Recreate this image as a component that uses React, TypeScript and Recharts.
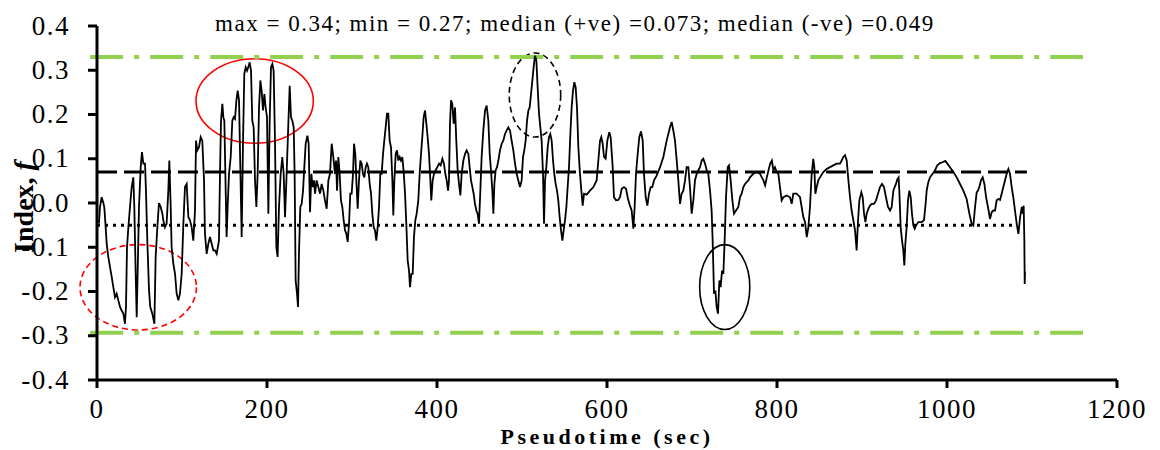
import {
  LineChart,
  Line,
  XAxis,
  YAxis,
  ReferenceLine,
  ReferenceArea,
} from "recharts";

const xTicks = [0, 200, 400, 600, 800, 1000, 1200];
const yTicks = [-0.4, -0.3, -0.2, -0.1, 0, 0.1, 0.2, 0.3, 0.4];

const upperBound = 0.33;
const lowerBound = -0.293;
const medianPos = 0.07;
const medianNeg = -0.05;

const title = "max = 0.34; min = 0.27; median (+ve) =0.073; median (-ve) =0.049";

// [pseudotime (sec), index f]
const trace: [number, number][] = [
  [1, -0.04], [2.4, -0.043], [3.5, -0.009], [5.5, 0.013], [7.5, 0], [8.6, -0.01],
  [10.2, -0.055], [11.4, -0.092], [13.3, -0.122], [15.3, -0.145], [17.3, -0.167],
  [19.2, -0.19], [21.2, -0.213], [23.1, -0.205], [25.1, -0.22], [27.1, -0.235],
  [29, -0.243], [31, -0.25], [32.9, -0.273], [34.1, -0.235], [35.3, -0.1],
  [36.9, -0.055], [38.8, -0.009], [40.8, 0.036], [42.7, 0.058], [43.9, -0.009],
  [45.5, -0.16], [46.7, -0.258], [47.8, -0.16], [49.4, -0.009], [51.4, 0.081],
  [52.9, 0.115], [54.5, 0.089], [56.5, 0.089], [57.6, 0.028], [59.2, -0.085],
  [61.2, -0.198], [62.7, -0.235], [65.1, -0.25], [67.5, -0.273], [69, -0.122],
  [71, -0.055], [72.9, 0], [74.9, -0.009], [76.9, -0.024], [78, -0.039],
  [80, -0.055], [81.9, -0.047], [83.9, 0.028], [85.1, 0.096], [86.7, -0.009],
  [87.8, -0.1], [89.8, -0.137], [91.8, -0.16], [93.7, -0.205], [95.7, -0.22],
  [97.6, -0.205], [99.6, -0.16], [101.6, -0.047], [103.5, 0.036], [105.5, 0.043],
  [107.5, -0.032], [109.4, -0.039], [111.4, -0.055], [113.3, -0.085], [115.3, -0.017],
  [116.5, 0.141], [118, 0.119], [120, 0.126], [122, 0.149], [123.9, 0.141],
  [125.9, 0.051], [127, -0.069], [129, -0.115], [131, -0.092], [132.9, -0.077],
  [134.9, -0.092], [136.9, -0.107], [138.8, -0.107], [140.8, -0.115],
  [143.5, -0.085], [144.7, 0.066], [145.9, 0.186], [147.5, 0.224], [148.6, 0.194],
  [149.8, 0.186], [151.4, 0.028], [152.5, -0.077], [153.7, -0.009], [155.3, 0.066],
  [157.3, 0.104], [159.2, 0.186], [160.8, 0.194], [162.4, 0.19], [164, 0.232],
  [165.5, 0.254], [167.1, 0.232], [168.6, 0.081], [170.2, -0.077], [171.8, 0.141],
  [173.3, 0.292], [174.9, 0.307], [176.5, 0.299], [178, 0.307], [179.6, 0.318],
  [181.2, 0.299], [182.7, 0.186], [184.3, 0.171], [185.9, 0.051], [187.5, -0.009],
  [189, 0.066], [190.6, 0.216], [192.2, 0.277], [193.7, 0.254], [195.3, 0.209],
  [196.9, 0.246], [198.4, 0.216], [200, 0.194], [201.6, -0.024], [203.1, 0.179],
  [204.7, 0.307], [206.3, 0.314], [207.8, 0.299], [209.4, 0.141], [211, -0.1],
  [212.5, -0.122], [214.1, -0.009], [216.1, 0.066], [218, 0.104], [219.6, 0.066],
  [221.2, -0.032], [223.1, 0.066], [225.1, 0.179], [226.7, 0.265], [228.2, 0.194],
  [229.8, 0.186], [231.4, 0.171], [232.5, 0.066], [233.7, -0.175], [235.3, -0.205],
  [236.5, -0.235], [237.6, -0.115], [239.2, -0.009], [240.8, -0.002], [242.4, 0.028],
  [243.9, 0.081], [245.5, 0.134], [247.5, 0.152], [249, 0.134], [250.6, -0.021],
  [252.2, 0.066], [253.7, 0.036], [255.3, 0.051], [256.5, 0.021], [258.4, 0.051],
  [260.4, 0.036], [262.4, 0.021], [264.3, 0.043], [266.3, 0.028], [268.2, 0.006],
  [270.2, -0.013], [272.2, 0.051], [274.1, 0.066], [276.1, 0.134], [278, 0.104],
  [280, 0.066], [281.2, 0.096], [282.4, 0.028], [283.9, 0.104], [285.5, 0.066],
  [287, 0.006], [288.6, -0.009], [290.2, -0.039], [291.8, -0.062], [293.3, -0.069],
  [294.9, -0.088], [296.5, -0.047], [298, 0.021], [299.6, 0.021], [301.2, 0.066],
  [302.4, 0.134], [303.9, 0.111], [305.1, 0.051], [306.7, -0.013], [308.2, 0.051],
  [309.8, 0.096], [311.4, 0.089], [312.9, 0.066], [314.5, 0.058], [316.1, 0.081],
  [317.6, 0.089], [319.2, 0.081], [320.8, 0.043], [322.4, 0.021], [323.9, -0.024],
  [325.5, -0.055], [327.1, -0.062], [328.6, -0.085], [330.2, -0.055], [331.8, -0.009],
  [333.3, 0.066], [334.9, 0.066], [336.5, 0.111], [338, 0.141], [339.6, 0.171],
  [341.2, 0.202], [342.7, 0.202], [344.3, 0.141], [345.9, 0.126], [347.5, 0.051],
  [348.6, -0.028], [349.8, 0.051], [351.4, 0.111], [352.9, 0.119], [354.5, 0.096],
  [356.1, 0.104], [357.6, 0.096], [359.2, 0.104], [360.8, 0.07], [362.4, 0.021],
  [363.9, -0.047], [365.5, -0.13], [367.1, -0.153], [368.2, -0.19], [369.8, -0.16],
  [371.4, -0.16], [372.9, -0.077], [374.5, -0.039], [376.1, -0.024], [378, 0.006],
  [379.6, 0.066], [381.2, 0.111], [382.7, 0.149], [384.3, 0.194], [385.9, 0.209],
  [387.5, 0.179], [389, 0.149], [390.6, 0.111], [392.2, 0.051], [393.3, 0.006],
  [394.9, 0.051], [396.5, 0.066], [398.4, 0.074], [400.4, 0.081], [402.4, 0.089],
  [404.3, 0.085], [406.3, 0.1], [408.2, 0.089], [409.8, 0.066], [411.4, 0.051],
  [413, 0.028], [414.1, 0.051], [415.3, 0.179], [416.5, 0.232], [418, 0.224],
  [419.6, 0.179], [421.2, 0.216], [422.7, 0.141], [424.3, 0.074], [425.9, 0.043],
  [427.5, 0.017], [429, 0.066], [431, 0.096], [433, 0.111], [434.9, 0.119],
  [436.9, 0.111], [438.4, 0.081], [440, 0.051], [441.6, 0.036], [443.1, 0.021],
  [444.7, -0.002], [446.3, -0.017], [447.8, -0.024], [449.4, -0.047], [451, 0.028],
  [452.5, 0.104], [454.5, 0.164], [456.5, 0.209], [458.4, 0.22], [460.4, 0.186],
  [462, 0.111], [463.5, 0.074], [465.1, 0.028], [466.3, -0.024], [467.5, 0.043],
  [469, 0.074], [470.6, 0.081], [472.2, 0.096], [474.1, 0.119], [476.1, 0.134],
  [478, 0.141], [480, 0.156], [482, 0.164], [483.9, 0.171], [485.9, 0.164],
  [487.8, 0.141], [489.8, 0.119], [491.8, 0.089], [493.7, 0.066], [495.7, 0.051],
  [497.6, 0.036], [499.6, 0.051], [501.2, 0.104], [502.7, 0.119], [504.3, 0.141],
  [505.9, 0.186], [507.5, 0.209], [509, 0.216], [510.6, 0.246], [512.2, 0.277],
  [513.7, 0.307], [515.3, 0.333], [516.9, 0.322], [518.4, 0.262], [520, 0.202],
  [521.6, 0.171], [523.1, 0.141], [524.7, 0.066], [525.9, -0.047], [527.1, 0.051],
  [528.6, 0.081], [530.2, 0.126], [531.8, 0.149], [533.3, 0.156], [534.9, 0.141],
  [536.5, 0.096], [538, 0.066], [539.6, 0.043], [541.2, 0.028], [542.7, 0.006],
  [544.3, -0.032], [545.9, -0.062], [547.5, -0.085], [549, -0.062], [550.6, -0.039],
  [552.2, -0.009], [553.7, 0.036], [555.3, 0.081], [556.9, 0.156], [558.4, 0.216],
  [560, 0.254], [561.6, 0.273], [563.1, 0.262], [564.7, 0.216], [566.3, 0.126],
  [568.2, 0.066], [569.8, 0.028], [571.4, -0.006], [573, 0.021], [576.1, 0.019],
  [580, 0.028], [584, 0.036], [587.8, 0.051], [589.8, 0.096], [591.8, 0.141],
  [593.3, 0.149], [594.9, 0.134], [596.5, 0.104], [598.4, 0.1], [600.4, 0.141],
  [602.7, 0.16], [604.3, 0.149], [606.7, 0.081], [608.2, 0.013], [610.6, 0.006],
  [613.3, 0.007], [615.3, 0.013], [617.3, 0.032], [620, 0.036], [622.4, 0.032],
  [624.3, 0.013], [626.3, -0.002], [629, -0.017], [631, -0.058], [632.5, -0.009],
  [634.1, 0.066], [636.1, 0.111], [638, 0.149], [640, 0.162], [642, 0.141],
  [643.5, 0.066], [645.5, 0.013], [647.5, -0.006], [649.4, 0.021], [651.4, 0.036],
  [653.3, 0.036], [655.3, 0.051], [658.4, 0.062], [662.4, 0.081], [666.3, 0.104],
  [670.2, 0.141], [674.1, 0.171], [676.1, 0.183], [678, 0.164], [680, 0.141],
  [682, 0.096], [683.9, 0.051], [685.9, -0.002], [687.8, 0.021], [689.8, 0.028],
  [691.8, 0.051], [693.7, 0.081], [695.7, 0.081], [697.6, 0.036], [699.6, -0.024],
  [701.6, 0.006], [703.5, 0.051], [705.5, 0.066], [707.5, 0.074], [709.4, 0.081],
  [711.4, 0.096], [713.3, 0.1], [715.3, 0.089], [717.3, 0.074], [719.2, 0.066],
  [721.2, 0.028], [723.1, -0.017], [724.3, -0.085], [725.9, -0.205], [727.5, -0.198],
  [729, -0.235], [730.6, -0.25], [732.2, -0.175], [733.7, -0.19], [735.3, -0.153],
  [736.9, -0.16], [738.4, -0.085], [740, 0.013], [742, 0.081], [743.5, 0.085],
  [745.5, 0.051], [747.5, 0.006], [749.4, -0.024], [751.8, -0.017], [754.5, -0.009],
  [756.5, 0.013], [758.4, 0.021], [760.4, 0.036], [762.4, 0.043], [764.3, 0.047],
  [766.3, 0.051], [768.2, 0.058], [772.2, 0.066], [776.1, 0.07], [780, 0.066],
  [784, 0.051], [786, 0.04], [788, 0.058], [790, 0.074], [792, 0.089],
  [794, 0.096], [795.7, 0.074], [797.6, 0.081], [799.6, 0.07], [801.6, 0.066],
  [803.5, 0.036], [805.5, 0.006], [807.5, 0.013], [811.4, 0.017], [815.3, 0.013],
  [817.3, -0.002], [819.2, 0.021], [823.1, 0.021], [827.1, 0.013], [829, -0.009],
  [831, -0.032], [833, -0.043], [835, -0.077], [836.9, -0.055], [838.8, -0.009],
  [840.8, 0.066], [842.7, 0.1], [843.9, 0.081], [845.1, 0.021], [846.7, 0.036],
  [848.6, 0.051], [850.6, 0.058], [854.5, 0.07], [858.4, 0.077], [862.4, 0.081],
  [866.3, 0.085], [870.2, 0.089], [874.1, 0.089], [876.1, 0.096], [878, 0.104],
  [880, 0.108], [882, 0.096], [884, 0.051], [885.9, 0.013], [887.8, -0.017],
  [889.8, -0.039], [891.8, -0.062], [893.7, -0.107], [895.3, -0.04], [896.9, 0.006],
  [899.2, 0.024], [900.8, 0.013], [902.4, -0.024], [904, -0.043], [905.5, -0.024],
  [907.5, -0.013], [909.4, -0.006], [911.4, -0.002], [914.1, -0.002], [916.5, 0.006],
  [918.8, 0.021], [921.2, 0.036], [923.5, 0.043], [925.9, 0.036], [928.2, 0.013],
  [930.6, -0.009], [933, -0.017], [934.9, -0.009], [936.9, 0.028], [938.4, 0.036],
  [940, 0.043], [941.6, 0.054], [943.1, 0.058], [943.9, 0.028], [945.5, -0.055],
  [947.1, -0.085], [948.6, -0.107], [949.8, -0.141], [951, -0.092], [952.5, -0.055],
  [954.1, 0.006], [955.7, 0.028], [957.3, 0.013], [958.8, -0.024], [960.4, -0.051],
  [962, -0.058], [963.5, -0.051], [966.3, -0.043], [970.2, -0.043], [972.9, -0.039],
  [974.5, -0.009], [976.1, 0.028], [978, 0.047], [980, 0.058], [983.1, 0.066],
  [985.9, 0.074], [988.6, 0.085], [991.8, 0.09], [994.9, 0.092], [998, 0.095],
  [1000.4, 0.089], [1003.5, 0.081], [1007.5, 0.07], [1011.4, 0.058], [1015.3, 0.043],
  [1019.2, 0.028], [1023.1, 0.009], [1026.3, -0.024], [1029, -0.047], [1031, -0.051],
  [1033, -0.009], [1034.9, 0.024], [1036.5, 0.028], [1038, 0.036], [1040, 0.051],
  [1042, 0.058], [1044, 0.043], [1046, 0.013], [1048.2, -0.009], [1050.6, -0.036],
  [1052.5, -0.021], [1054.5, -0.017], [1056.5, -0.017], [1058.4, 0.006], [1060.4, 0.009],
  [1062.4, 0.007], [1064.3, 0.021], [1066.3, 0.036], [1068.2, 0.051], [1070.2, 0.066],
  [1072.2, 0.077], [1074.1, 0.066], [1076.1, 0.036], [1078, 0.013], [1080, -0.017],
  [1082, -0.047], [1084, -0.07], [1086, -0.032], [1088, -0.009], [1089, -0.024],
  [1090.2, -0.006], [1091, -0.085], [1091.4, -0.183], [1091.8, -0.155],
];

// circled events, in data units
const redSolid = { x1: 116.5, x2: 254.5, y1: 0.135, y2: 0.326 };
const redDashed = { x1: -20, x2: 117, y1: -0.287, y2: -0.094 };
const blackDashed = { x1: 485, x2: 545.5, y1: 0.149, y2: 0.339 };
const blackSolid = { x1: 709, x2: 768, y1: -0.286, y2: -0.094 };

const data = trace.map(([t, f]) => ({ t, f }));

const serif = "Liberation Serif";

const ellipse = (stroke: string, dash?: string) => (props: any) => {
  const { x, y, width, height } = props;
  return (
    <ellipse
      cx={x + width / 2}
      cy={y + height / 2}
      rx={Math.abs(width) / 2}
      ry={Math.abs(height) / 2}
      fill="none"
      stroke={stroke}
      strokeWidth={1.6}
      strokeDasharray={dash}
    />
  );
};

const XTick = (props: any) => {
  const { x, y, payload } = props;
  return (
    <text x={x} y={y} dy={16} textAnchor="middle" fontFamily={serif} fontSize={27} fill="#000" style={{ letterSpacing: 1.5 }}>
      {payload.value}
    </text>
  );
};

const YTick = (props: any) => {
  const { x, y, payload } = props;
  return (
    <text x={x} y={y} dy={8.5} textAnchor="end" fontFamily={serif} fontSize={27} fill="#000" style={{ letterSpacing: 1.5 }}>
      {Number(payload.value).toFixed(1)}
    </text>
  );
};

export default function App() {
  return (
    <div style={{ position: "absolute", left: 0, top: 0, width: 1160, height: 450, background: "#fff" }}>
      <LineChart width={1160} height={450} data={data} margin={{ top: 26, right: 43, bottom: 0, left: 17 }}>
        <XAxis
          type="number"
          dataKey="t"
          domain={[0, 1200]}
          ticks={xTicks}
          height={70}
          allowDataOverflow
          axisLine={{ stroke: "#000", strokeWidth: 3 }}
          tickLine={{ stroke: "#000", strokeWidth: 3 }}
          tickSize={8}
          tickMargin={14}
          tick={<XTick />}
        />
        <YAxis
          type="number"
          domain={[-0.4, 0.4]}
          ticks={yTicks}
          width={80}
          allowDataOverflow
          axisLine={{ stroke: "#000", strokeWidth: 3 }}
          tickLine={{ stroke: "#000", strokeWidth: 3 }}
          tickSize={9}
          tickMargin={18}
          tick={<YTick />}
        />
        <ReferenceLine
          segment={[{ x: -8, y: upperBound }, { x: 1160, y: upperBound }]}
          stroke="#92D050"
          strokeWidth={4}
          strokeDasharray="33 11 5 11"
          ifOverflow="visible"
        />
        <ReferenceLine
          segment={[{ x: -8, y: lowerBound }, { x: 1160, y: lowerBound }]}
          stroke="#92D050"
          strokeWidth={4}
          strokeDasharray="33 11 5 11"
          ifOverflow="visible"
        />
        <ReferenceLine
          segment={[{ x: 0, y: medianPos }, { x: 1094, y: medianPos }]}
          stroke="#000"
          strokeWidth={3}
          strokeDasharray="20 7"
        />
        <ReferenceLine
          segment={[{ x: 0, y: medianNeg }, { x: 1080, y: medianNeg }]}
          stroke="#000"
          strokeWidth={3}
          strokeDasharray="3 5"
        />
        <Line
          type="linear"
          dataKey="f"
          stroke="#000"
          strokeWidth={1.8}
          dot={false}
          activeDot={false}
          isAnimationActive={false}
        />
        <ReferenceArea {...redSolid} ifOverflow="visible" shape={ellipse("#FF0000")} />
        <ReferenceArea {...redDashed} ifOverflow="visible" shape={ellipse("#FF0000", "6 4")} />
        <ReferenceArea {...blackDashed} ifOverflow="visible" shape={ellipse("#000", "6 4")} />
        <ReferenceArea {...blackSolid} ifOverflow="visible" shape={ellipse("#000")} />
      </LineChart>
      <svg width={1160} height={450} style={{ position: "absolute", left: 0, top: 0, pointerEvents: "none" }}>
        <text x={575} y={31} textAnchor="middle" fontFamily={serif} fontSize={23} fill="#000" style={{ letterSpacing: 1.5 }}>
          {title}
        </text>
        <text x={607} y={444} textAnchor="middle" fontFamily={serif} fontSize={22} fontWeight="bold" fill="#000" style={{ letterSpacing: 3.5 }}>
          Pseudotime (sec)
        </text>
        <text transform="translate(33 207) rotate(-90)" textAnchor="middle" fontFamily={serif} fontSize={28} fontWeight="bold" fill="#000">
          Index, <tspan fontStyle="italic">f</tspan>
        </text>
      </svg>
    </div>
  );
}
